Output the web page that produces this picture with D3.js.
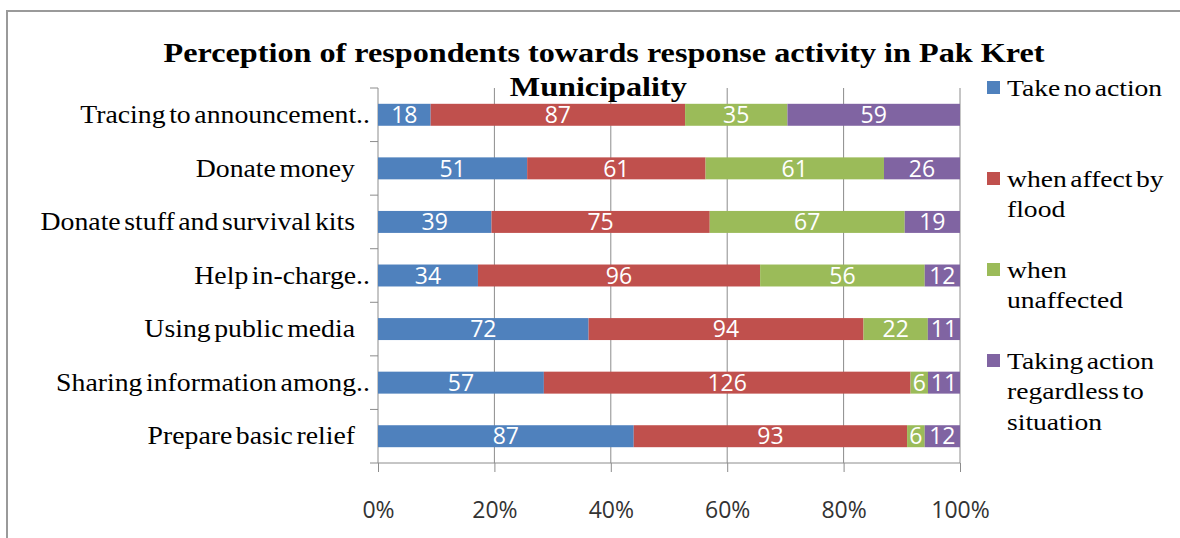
<!DOCTYPE html>
<head>
    <meta charset="utf-8" />
    <script src="https://d3js.org/d3.v7.min.js"></script>
    <style>
        body { margin: 0; background: #fff; }
    </style>
</head>
<body>
<script>
    // data
    var categories = [
        "Tracing to announcement..",
        "Donate money",
        "Donate stuff and survival kits",
        "Help in-charge..",
        "Using public media",
        "Sharing information among..",
        "Prepare basic relief"
    ];
    var seriesNames = ["Take no action", "when affect by flood", "when unaffected", "Taking action regardless to situation"];
    var legendLines = [["Take no action"], ["when affect by", "flood"], ["when", "unaffected"], ["Taking action", "regardless to", "situation"]];
    var takeNoAction = [18, 51, 39, 34, 72, 57, 87];
    var whenAffected = [87, 61, 75, 96, 94, 126, 93];
    var whenUnaffected = [35, 61, 67, 56, 22, 6, 6];
    var regardless = [59, 26, 19, 12, 11, 11, 12];
    var tickValues = [0, 0.2, 0.4, 0.6, 0.8, 1];
    var colors = ["#4f81bd", "#c0504d", "#9bbb59", "#8064a2"];

    var width = 1180, height = 538;
    var plotL = 378, plotR = 960, plotT = 88, plotB = 463;

    var svg = d3.select("body").append("svg")
        .attr("width", width)
        .attr("height", height);

    // chart border (only top and left edges fall inside the picture)
    svg.append("rect")
        .attr("x", 7).attr("y", 11)
        .attr("width", 1200).attr("height", 600)
        .attr("fill", "none")
        .attr("stroke", "#9a9a9a")
        .attr("stroke-width", 2);

    var rows = categories.map(function (c, i) {
        return { cat: c, s0: takeNoAction[i], s1: whenAffected[i], s2: whenUnaffected[i], s3: regardless[i] };
    });
    var keys = ["s0", "s1", "s2", "s3"];
    var stacked = d3.stack().keys(keys).offset(d3.stackOffsetExpand)(rows);

    var x = d3.scaleLinear().domain([0, 1]).range([plotL, plotR]);
    var y = d3.scaleBand().domain(categories).range([plotT, plotB]).paddingInner(0.59).paddingOuter(0.295);
    var yb = d3.scaleBand().domain(categories).range([plotT, plotB]);

    // vertical gridlines
    svg.append("g").selectAll("line")
        .data(tickValues.slice(1))
        .join("line")
        .attr("x1", function (d) { return x(d); })
        .attr("x2", function (d) { return x(d); })
        .attr("y1", plotT).attr("y2", plotB)
        .attr("stroke", "#8c8c8c").attr("stroke-width", 1);

    // x axis
    var xAxis = svg.append("g")
        .attr("transform", "translate(0," + plotB + ")")
        .call(d3.axisBottom(x).tickValues(tickValues).tickFormat(d3.format(".0%")).tickSize(9).tickSizeOuter(0));
    xAxis.select(".domain").attr("stroke", "#8c8c8c").attr("d", "M" + (plotL - 8) + ",0H" + plotR);
    xAxis.selectAll(".tick line").attr("stroke", "#8c8c8c");
    xAxis.selectAll(".tick text")
        .attr("y", 39)
        .attr("dy", "0.71em")
        .style("font-family", "'Open Sans'")
        .style("font-size", "23px")
        .attr("fill", "#333");

    // y axis line and ticks at band edges
    svg.append("line")
        .attr("x1", plotL).attr("x2", plotL)
        .attr("y1", plotT).attr("y2", plotB)
        .attr("stroke", "#8c8c8c");
    svg.append("g").selectAll("line")
        .data(categories)
        .join("line")
        .attr("x1", plotL - 8).attr("x2", plotL)
        .attr("y1", function (d) { return yb(d); })
        .attr("y2", function (d) { return yb(d); })
        .attr("stroke", "#8c8c8c");

    // category labels (serif text is a bit wider in the original, so stretch it)
    svg.append("g").selectAll("g")
        .data(categories)
        .join("g")
        .attr("transform", function (d) {
            var lx = /\.\.$/.test(d) ? 370 : 355;
            return "translate(" + lx + "," + (yb(d) + yb.bandwidth() / 2) + ") scale(1.11,1)";
        })
        .append("text")
        .attr("dy", "0.33em")
        .attr("text-anchor", "end")
        .style("font-family", "'Liberation Serif'")
        .style("font-size", "25px")
        .style("word-spacing", "-3px")
        .attr("fill", "#000")
        .text(function (d) { return d; });

    // bars
    var layers = svg.append("g").selectAll("g")
        .data(stacked)
        .join("g")
        .attr("fill", function (d, i) { return colors[i]; });

    layers.selectAll("rect")
        .data(function (d) { return d; })
        .join("rect")
        .attr("x", function (d) { return x(d[0]); })
        .attr("y", function (d) { return y(d.data.cat); })
        .attr("width", function (d) { return x(d[1]) - x(d[0]); })
        .attr("height", y.bandwidth());

    // value labels
    layers.selectAll("text")
        .data(function (d) { return d.map(function (p) { return { p: p, v: p.data[d.key] }; }); })
        .join("text")
        .attr("x", function (d) { return (x(d.p[0]) + x(d.p[1])) / 2; })
        .attr("y", function (d) { return y(d.p.data.cat) + y.bandwidth() / 2; })
        .attr("dy", "0.36em")
        .attr("text-anchor", "middle")
        .style("font-family", "'Open Sans'")
        .style("font-size", "23px")
        .attr("fill", "#fff")
        .text(function (d) { return d.v; });

    // title
    var title = svg.append("g")
        .attr("transform", "translate(604,0) scale(1.15,1)")
        .append("text")
        .attr("text-anchor", "middle")
        .style("font-family", "'Liberation Serif'")
        .style("font-weight", "bold")
        .style("font-size", "28px")
        .attr("fill", "#000");
    title.append("tspan").attr("x", 0).attr("y", 62).text("Perception of respondents towards response activity in Pak Kret");
    title.append("tspan").attr("x", -5).attr("y", 96).text("Municipality");

    // legend
    var legend = svg.append("g").selectAll("g")
        .data(seriesNames)
        .join("g")
        .attr("transform", function (d, i) { return "translate(987," + (88 + i * 91) + ")"; });
    legend.append("rect")
        .attr("x", 0).attr("y", -7)
        .attr("width", 13).attr("height", 13)
        .attr("fill", function (d, i) { return colors[i]; });
    legend.append("g")
        .attr("transform", "translate(20,0) scale(1.15,1)")
        .append("text")
        .style("font-family", "'Liberation Serif'")
        .style("font-size", "24px")
        .style("word-spacing", "-3px")
        .attr("fill", "#000")
        .selectAll("tspan")
        .data(function (d, i) { return legendLines[i]; })
        .join("tspan")
        .attr("x", 0)
        .attr("y", function (d, j) { return 8 + j * 30.5; })
        .text(function (d) { return d; });
</script>
</body>
